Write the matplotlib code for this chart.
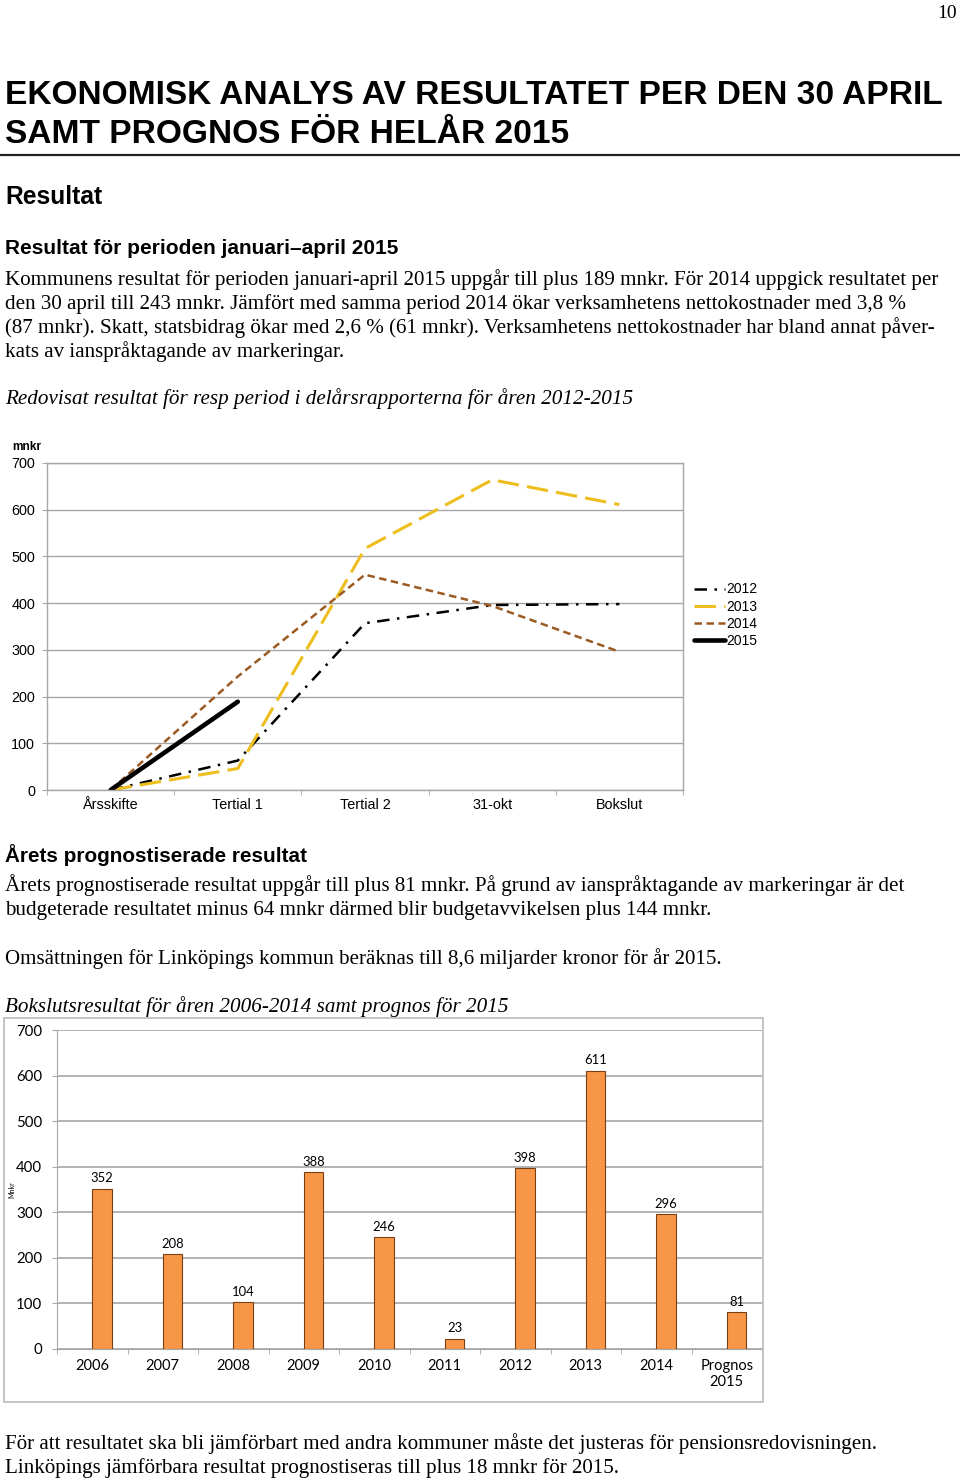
import matplotlib
matplotlib.use("Agg")
import matplotlib.pyplot as plt
from matplotlib.patches import Rectangle
from matplotlib.lines import Line2D

# ====== Data ======
periods = ["Årsskifte", "Tertial 1", "Tertial 2", "31-okt", "Bokslut"]
res_2012 = [0, 63, 357, 396, 398]
res_2013 = [0, 46, 517, 664, 611]
res_2014 = [0, 243, 461, 394, 296]
res_2015 = [0, 189]

years = ["2006", "2007", "2008", "2009", "2010", "2011", "2012", "2013", "2014", "Prognos\n2015"]
bokslut = [352, 208, 104, 388, 246, 23, 398, 611, 296, 81]

W, H = 960, 1480
fig = plt.figure(figsize=(W / 100, H / 100), dpi=100)
renderer = fig.canvas.get_renderer()

SERIF = "Liberation Serif"
SANS = "Liberation Sans"


def put(x, y, s, w=None, size=12, **kw):
    # place text by pixel position (baseline), optionally fit to a target width
    t = fig.text(x / W, 1 - y / H, s, fontsize=size, va="baseline", **kw)
    if w:
        bb = t.get_window_extent(renderer)
        t.set_fontsize(size * w / bb.width)
    return t


def box(x0, y0, x1, y1):
    return [x0 / W, 1 - y1 / H, (x1 - x0) / W, (y1 - y0) / H]


# ====== Page text ======
put(957, 18, "10", size=14, family=SERIF, ha="right")
put(5, 104, "EKONOMISK ANALYS AV RESULTATET PER DEN 30 APRIL", w=940, size=24,
    family=["Liberation Sans Narrow", SANS], weight="bold")
put(5, 143, "SAMT PROGNOS FÖR HELÅR 2015", w=564, size=24,
    family=["Liberation Sans Narrow", SANS], weight="bold")
fig.add_artist(Line2D([0, 1], [1 - 155 / H] * 2, color="#222222", lw=1.6))

put(5, 204, "Resultat", w=97, size=18, family=SANS, weight="bold")
put(5, 254, "Resultat för perioden januari–april 2015", w=392, size=14, family=SANS, weight="bold")

para1 = [
    ("Kommunens resultat för perioden januari-april 2015 uppgår till plus 189 mnkr. För 2014 uppgick resultatet per", 930),
    ("den 30 april till 243 mnkr. Jämfört med samma period 2014 ökar verksamhetens nettokostnader med 3,8 %", 897),
    ("(87 mnkr). Skatt, statsbidrag ökar med 2,6 % (61 mnkr). Verksamhetens nettokostnader har bland annat påver-", 927),
    ("kats av ianspråktagande av markeringar.", 337),
]
for i, (s, w) in enumerate(para1):
    put(5, 285 + 24 * i, s, w=w, size=13, family=SERIF)

put(5, 404, "Redovisat resultat för resp period i delårsrapporterna för åren 2012-2015", w=623,
    size=13, family=SERIF, style="italic")

put(5, 862, "Årets prognostiserade resultat", w=304, size=15, family=SANS, weight="bold")
put(5, 891, "Årets prognostiserade resultat uppgår till plus 81 mnkr. På grund av ianspråktagande av markeringar är det",
    w=896, size=13, family=SERIF)
put(5, 915, "budgeterade resultatet minus 64 mnkr därmed blir budgetavvikelsen plus 144 mnkr.",
    w=703, size=13, family=SERIF)
put(5, 964, "Omsättningen för Linköpings kommun beräknas till 8,6 miljarder kronor för år 2015.",
    w=714, size=13, family=SERIF)
put(5, 1012, "Bokslutsresultat för åren 2006-2014 samt prognos för 2015", w=500, size=13,
    family=SERIF, style="italic")

put(5, 1449, "För att resultatet ska bli jämförbart med andra kommuner måste det justeras för pensionsredovisningen.",
    w=867, size=13, family=SERIF)
put(5, 1473, "Linköpings jämförbara resultat prognostiseras till plus 18 mnkr för 2015.",
    w=611, size=13, family=SERIF)

# ====== Line chart ======
GRID = "#A6A6A6"
ax = fig.add_axes(box(47, 463, 683, 790))
x = list(range(len(periods)))
ax.plot(x, res_2012, color="black", lw=1.8, ls=(0, (5, 3, 1, 3)), label="2012")
ax.plot(x, res_2013, color="#EDBE1E", lw=2.2, ls=(0, (7, 2.7)), label="2013")
ax.plot(x, res_2014, color="#9A5A22", lw=1.8, ls=(0, (3, 1.8)), label="2014")
ax.plot(x[:len(res_2015)], res_2015, color="black", lw=3.3, solid_capstyle="round", label="2015")

ax.set_xlim(-0.5, len(periods) - 0.5)
ax.set_ylim(0, 700)
ax.set_yticks(range(0, 701, 100))
ax.set_xticks(x)
ax.set_xticklabels(periods)
ax.set_xticks([i - 0.5 for i in range(len(periods) + 1)], minor=True)
ax.grid(axis="y", color=GRID, lw=1)
ax.set_axisbelow(True)
for sp in ax.spines.values():
    sp.set_color(GRID)
    sp.set_linewidth(1)
ax.tick_params(axis="x", which="major", length=0, pad=6, labelsize=10.4, labelfontfamily=SANS)
ax.tick_params(axis="x", which="minor", length=3.6, color=GRID)
ax.tick_params(axis="y", length=3.6, color=GRID, pad=5, labelsize=10.4, labelfontfamily=SANS)
ax.legend(loc="center left", bbox_to_anchor=(1.0, 0.535), frameon=False, handlelength=2.2,
          handletextpad=0.1, labelspacing=0.22, prop={"family": SANS, "size": 10},
          borderaxespad=0.4)
put(12, 450, "mnkr", size=8.6, family=SANS, weight="bold")

# ====== Bar chart ======
fig.add_artist(Rectangle((4 / W, 1 - 1402 / H), 759 / W, 384 / H, transform=fig.transFigure,
                         fill=False, edgecolor="#BFBFBF", lw=1.3))
bx = fig.add_axes(box(57, 1030, 762, 1349))
pos = list(range(len(years)))
bars = bx.bar([p + 0.14 for p in pos], bokslut, width=0.28, color="#F79646",
              edgecolor="#7A3E12", lw=0.8)
for b, v in zip(bars, bokslut):
    bx.text(b.get_x() + b.get_width() / 2, v + 9, str(v), ha="center", va="bottom",
            fontsize=9.4, family="Lato")
bx.set_xlim(-0.5, len(years) - 0.5)
bx.set_ylim(0, 700)
bx.set_yticks(range(0, 701, 100))
bx.set_xticks(pos)
bx.set_xticklabels(years, linespacing=1.2)
bx.set_xticks([i - 0.5 for i in range(len(years) + 1)], minor=True)
bx.grid(axis="y", color=GRID, lw=1.2)
bx.set_axisbelow(True)
bx.spines["top"].set_visible(False)
bx.spines["right"].set_visible(False)
bx.spines["left"].set_color(GRID)
bx.spines["bottom"].set_color(GRID)
bx.tick_params(axis="x", which="major", length=0, pad=7, labelsize=10.5, labelfontfamily="Lato")
bx.tick_params(axis="x", which="minor", length=3.6, color=GRID)
bx.tick_params(axis="y", length=3.6, color=GRID, pad=7, labelsize=10.8, labelfontfamily="Lato")
fig.text(12 / W, 1 - 1190 / H, "Mnkr", rotation=90, fontsize=5, family="Lato",
         ha="center", va="center")

fig.savefig("out.png", dpi=100)
